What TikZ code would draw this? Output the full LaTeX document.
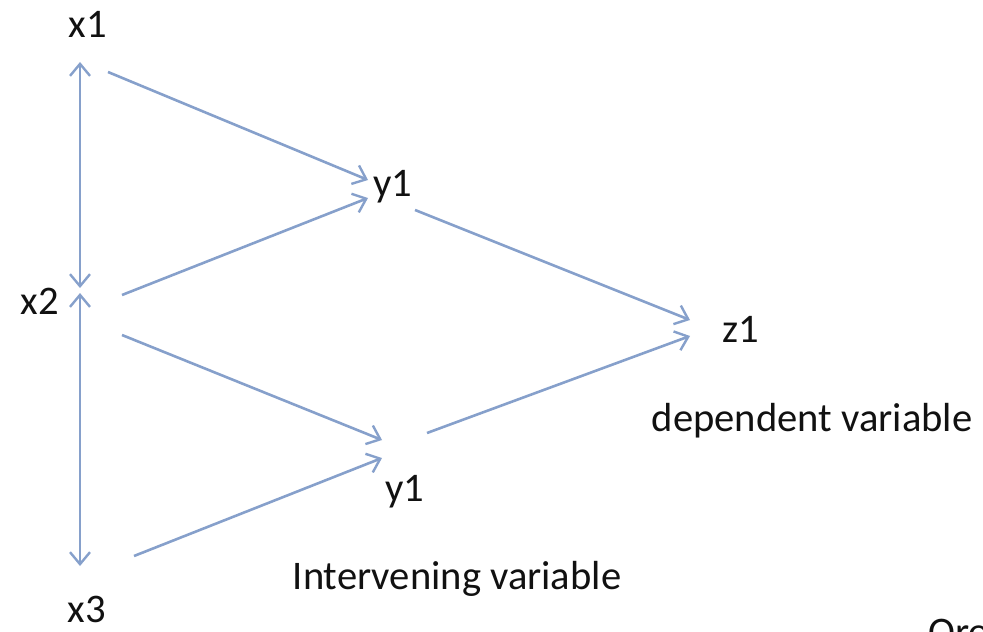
\documentclass[tikz,border=0pt]{standalone}
\usepackage{fontspec}
\setmainfont{Carlito}
\usetikzlibrary{arrows.meta}
\definecolor{link}{HTML}{86A0CB}
\definecolor{ink}{HTML}{111111}
\tikzset{
  >={Straight Barb[length=6pt,width=10pt,line width=1.2pt]},
  arc/.style={->, draw=link, line width=1.3pt},
  twoway/.style={<->, draw=link, line width=1.3pt},
  var/.style={font=\fontsize{20.3}{24}\selectfont, text=ink, inner sep=0pt},
}
\begin{document}
\begin{tikzpicture}[x=0.5pt,y=-0.5pt]

% Canvas ----------------------------------------------------------------------
\useasboundingbox (0,0) rectangle (983,631);
\clip (0,0) rectangle (983,631);

% Variables -------------------------------------------------------------------
\node[var] (x1) at (88,24) {x1};
\node[var] (x2) at (40,301) {x2};
\node[var] (x3) at (87,609) {x3};
\node[var] (ya) at (393,187) {y1};
\node[var] (yb) at (405,492) {y1};
\node[var] (z1) at (741,329) {z1};
\node[var] (dep) at (812,421) {dependent variable};
\node[var] (inter) at (457,579) {Intervening variable};
\node[var, anchor=base west] (ore) at (928,645) {Ore};

% Arrow ends
\coordinate (x1s) at (80,62);
\coordinate (x2n) at (80,288);
\coordinate (x2s) at (80,293);
\coordinate (x3n) at (80,566);
\coordinate (x1e) at (108,72);
\coordinate (x2a) at (122,295);
\coordinate (x2b) at (122,335);
\coordinate (x3e) at (134,556);
\coordinate (yain) at (368,180);
\coordinate (yain2) at (368,198);
\coordinate (ybin) at (382,440);
\coordinate (ybin2) at (382,458);
\coordinate (yaout) at (415,210);
\coordinate (ybout) at (427,433);
\coordinate (zin) at (690,320);
\coordinate (zin2) at (690,336);

% Links -----------------------------------------------------------------------
\draw[twoway] (x1s) -- (x2n);
\draw[twoway] (x2s) -- (x3n);
\draw[arc] (x1e) -- (yain);
\draw[arc] (x2a) -- (yain2);
\draw[arc] (x2b) -- (ybin);
\draw[arc] (x3e) -- (ybin2);
\draw[arc] (yaout) -- (zin);
\draw[arc] (ybout) -- (zin2);

\end{tikzpicture}
\end{document}
